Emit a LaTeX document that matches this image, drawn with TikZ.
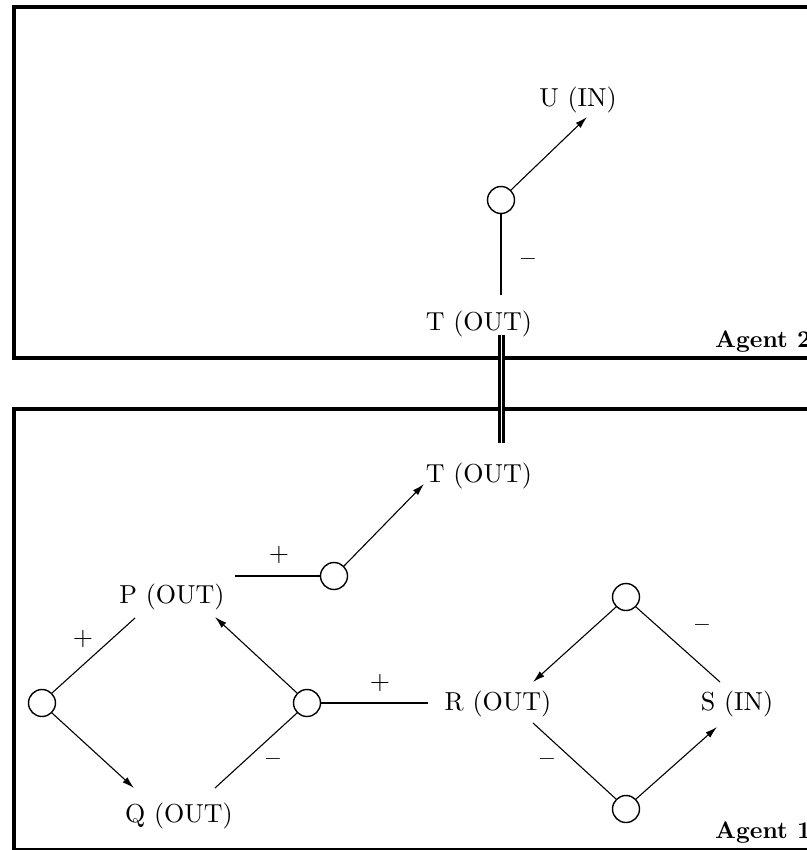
\documentclass[tikz,border=0pt]{standalone}
\usetikzlibrary{arrows.meta,calc}
\font\lblf="[lmroman10-regular.otf]" at 26pt
\font\agf="[lmroman10-bold.otf]" at 24pt
\begin{document}
\begin{tikzpicture}[x=1pt,y=-1pt,
  lbl/.style={inner sep=0pt, font=\lblf},
  sgn/.style={inner sep=0pt, font=\lblf},
  msgn/.style={inner sep=0pt, font=\agf},
  junc/.style={circle, draw, line width=1.4pt, minimum size=27pt, inner sep=0pt},
  conn/.style={line width=1.1pt},
  thk/.style={line width=2.5pt},
  arr/.style={line width=1.1pt, -{Latex[length=12pt,width=7pt]}},
  frame/.style={line width=4pt},
  agent/.style={inner sep=0pt, anchor=base west, font=\agf}]
\useasboundingbox (0,0) rectangle (806,850);
% frames
\draw[frame] (840,7) -- (14,7) -- (14,358) -- (840,358);
\draw[frame] (840,409) -- (14,409) -- (14,850) -- (840,850);
\node[agent] (ag2) at (715,347) {Agent 2};
\node[agent] (ag1) at (715,838) {Agent 1};
% agent 2
\node[lbl] (U) at (578,100) {U (IN)};
\node[junc] (cU) at (501,200) {};
\node[lbl] (T1) at (479,324) {T (OUT)};
\draw[arr] (cU.45) -- ($(U)+(9,17)$);
\draw[thk] (cU.south) -- ($(T1)+(22,-29)$);
\node[msgn] (m1) at (528,262) {–};
% link
\node[lbl] (T2) at (479,476) {T (OUT)};
\draw[double, double distance=1.8pt, line width=2.5pt] ($(T1)+(22.5,11)$) -- ($(T2)+(22.5,-33)$);
% agent 1
\node[lbl] (P) at (172,597) {P (OUT)};
\node[lbl] (Q) at (179,816) {Q (OUT)};
\node[lbl] (R) at (498,704) {R (OUT)};
\node[lbl] (S) at (737,704) {S (IN)};
\node[junc] (cT) at (334,576) {};
\node[junc] (cL) at (42,703) {};
\node[junc] (cM) at (307,703) {};
\node[junc] (cTop) at (626,597) {};
\node[junc] (cBot) at (626,809) {};
\draw[thk] ($(P)+(63,-21)$) -- (cT.west);
\draw[arr] (cT.45) -- ($(T2)+(-55,8)$);
\draw[conn] (cL.45) -- ($(P)+(-37,21)$);
\draw[arr] (cL.-45) -- ($(Q)+(-45,-28)$);
\draw[arr] (cM.135) -- ($(P)+(43,20)$);
\draw[conn] (cM.-135) -- ($(Q)+(36,-28)$);
\draw[thk] (cM.east) -- ($(R)+(-70,-1)$);
\draw[arr] (cTop.-135) -- ($(R)+(35,-22)$);
\draw[conn] (cTop.-45) -- ($(S)+(-17,-22)$);
\draw[conn] ($(R)+(35,19)$) -- (cBot.135);
\draw[arr] (cBot.45) -- ($(S)+(-20,23)$);
\node[sgn] (p1) at (279,555) {+};
\node[sgn] (p2) at (83,639) {+};
\node[sgn] (p3) at (380,683) {+};
\node[msgn] (m2) at (273,762) {–};
\node[msgn] (m3) at (702,628) {–};
\node[msgn] (m4) at (547,762) {–};
\end{tikzpicture}
\end{document}
